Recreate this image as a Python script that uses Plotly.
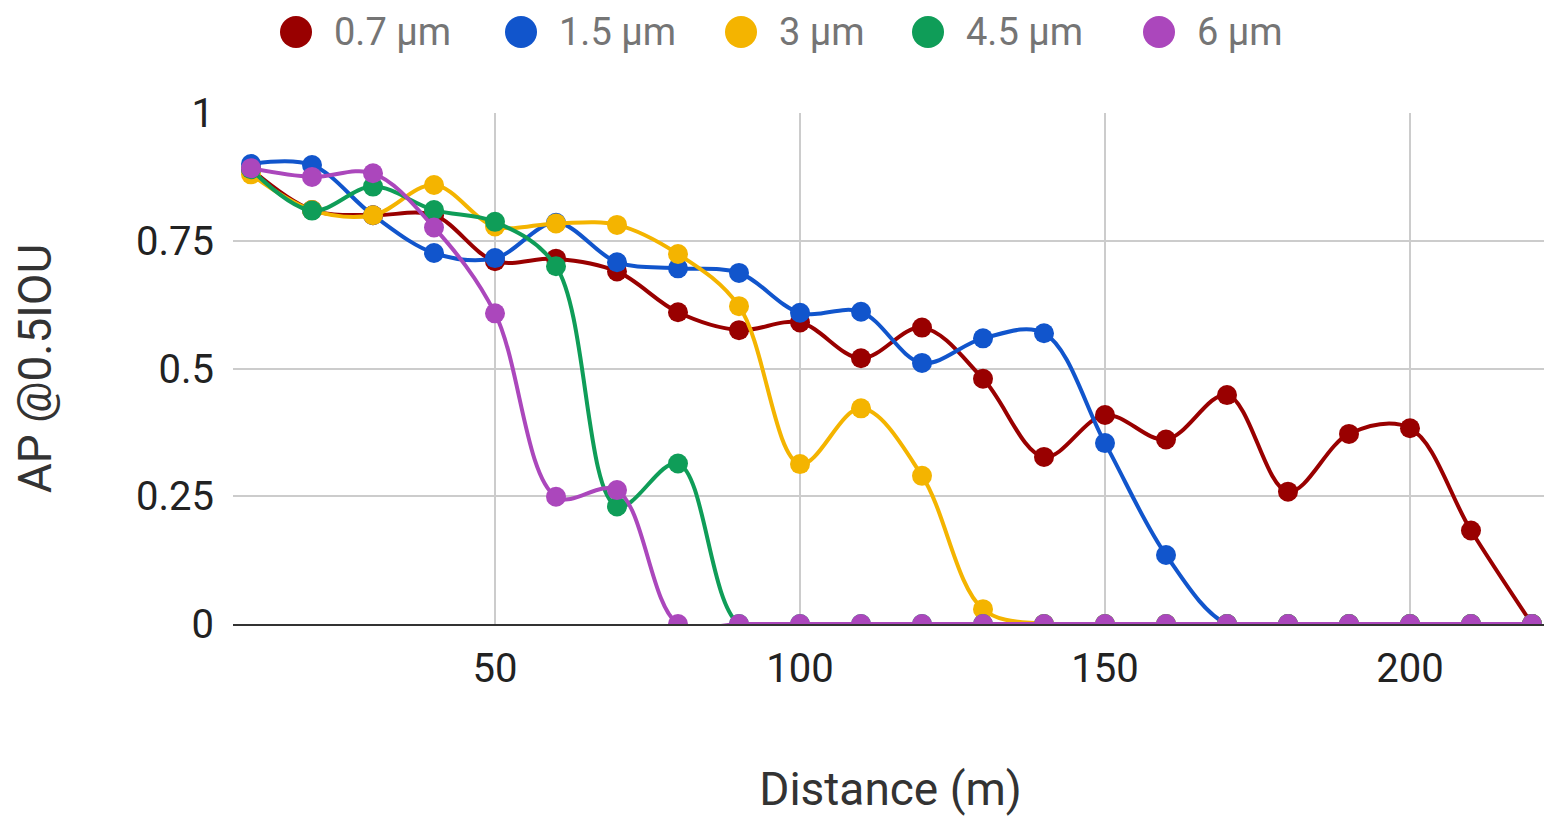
import plotly.graph_objects as go

distance = [10, 20, 30, 40, 50, 60, 70, 80, 90, 100, 110, 120, 130, 140, 150, 160, 170, 180, 190, 200, 210, 220]

series_names = ["0.7 µm", "1.5 µm", "3 µm", "4.5 µm", "6 µm"]
series_colors = ["#990000", "#1155cc", "#f4b400", "#0f9d58", "#ab47bc"]

ap_07 = [0.89, 0.81, 0.80, 0.80, 0.71, 0.715, 0.69, 0.61, 0.575, 0.59, 0.52, 0.58, 0.48, 0.327, 0.409, 0.361, 0.448, 0.259, 0.372, 0.383, 0.183, 0.0]
ap_15 = [0.90, 0.898, 0.80, 0.726, 0.716, 0.785, 0.708, 0.696, 0.687, 0.609, 0.611, 0.511, 0.559, 0.569, 0.354, 0.135, 0.0, 0.0, 0.0, 0.0, 0.0, 0.0]
ap_3 = [0.88, 0.81, 0.80, 0.859, 0.778, 0.784, 0.781, 0.724, 0.622, 0.313, 0.422, 0.29, 0.029, 0.0, 0.0, 0.0, 0.0, 0.0, 0.0, 0.0, 0.0, 0.0]
ap_45 = [0.89, 0.809, 0.856, 0.81, 0.787, 0.70, 0.23, 0.314, 0.0, 0.0, 0.0, 0.0, 0.0, 0.0, 0.0, 0.0, 0.0, 0.0, 0.0, 0.0, 0.0, 0.0]
ap_6 = [0.892, 0.875, 0.882, 0.776, 0.608, 0.249, 0.262, 0.0, 0.0, 0.0, 0.0, 0.0, 0.0, 0.0, 0.0, 0.0, 0.0, 0.0, 0.0, 0.0, 0.0, 0.0]

series_values = [ap_07, ap_15, ap_3, ap_45, ap_6]

y_tickvals = [0, 0.25, 0.5, 0.75, 1]
y_ticktext = ["0", "0.25", "0.5", "0.75", "1"]
x_tickvals = [50, 100, 150, 200]

# page has an 8px body margin, so the figure is placed at (8, 8) and fills to the window edge
OFF = 8
W, H = 1552 - OFF, 816 - OFF
ML, MR, MT, MB = 233 - OFF, 1552 - 1548, 113 - OFF, 816 - 624
FONT = "Roboto, 'Noto Sans', sans-serif"

fig = go.Figure()
for name, color, vals in zip(series_names, series_colors, series_values):
    fig.add_trace(go.Scatter(
        x=distance, y=vals, name=name, mode="lines+markers",
        line=dict(color=color, width=4, shape="spline", smoothing=1),
        marker=dict(color=color, size=20),
        showlegend=False,
    ))

# legend built from circles + text in the top margin
pw = W - ML - MR
ph = H - MT - MB
def px_to_paper_x(px):
    return (px - OFF - ML) / pw
def px_to_paper_y(py):
    return (H - MB - (py - OFF)) / ph

legend_centers = [296, 521, 741, 928, 1159]
legend_y = 32
shapes = []
annotations = []
for name, color, cx in zip(series_names, series_colors, legend_centers):
    shapes.append(dict(
        type="circle", xref="paper", yref="paper",
        xsizemode="pixel", ysizemode="pixel",
        xanchor=px_to_paper_x(cx), yanchor=px_to_paper_y(legend_y),
        x0=-16, x1=16, y0=-16, y1=16,
        fillcolor=color, line=dict(width=0),
    ))
    annotations.append(dict(
        text=name, xref="paper", yref="paper",
        x=px_to_paper_x(cx + 36), y=px_to_paper_y(legend_y),
        xanchor="left", yanchor="middle", showarrow=False,
        font=dict(family=FONT, size=38, color="#757575"),
    ))

x_per_px = 1 / 6.1
x0 = 7.05
x1 = x0 + pw * x_per_px

fig.update_layout(
    width=W, height=H,
    margin=dict(l=ML, r=MR, t=MT, b=MB),
    paper_bgcolor="white", plot_bgcolor="white",
    showlegend=False,
    shapes=shapes, annotations=annotations,
    font=dict(family=FONT, color="#222222"),
)
fig.update_xaxes(
    range=[x0, x1], tickvals=x_tickvals,
    showgrid=True, gridcolor="#cccccc", gridwidth=2,
    zeroline=False, showline=True, linecolor="#333333", linewidth=2,
    layer="below traces",
    tickfont=dict(family=FONT, size=40, color="#222222"),
    ticks="", ticklabelstandoff=8,
    title=dict(text="Distance (m)", font=dict(family=FONT, size=46, color="#333333"), standoff=88),
)
fig.update_yaxes(
    range=[0, 1], tickvals=y_tickvals, ticktext=y_ticktext,
    showgrid=True, gridcolor="#cccccc", gridwidth=2,
    zeroline=False, showline=False,
    tickfont=dict(family=FONT, size=40, color="#222222"),
    ticks="", ticklabelstandoff=18,
    title=dict(text="AP @0.5IOU", font=dict(family=FONT, size=46, color="#333333"), standoff=70),
)

fig.write_html("out.html")
